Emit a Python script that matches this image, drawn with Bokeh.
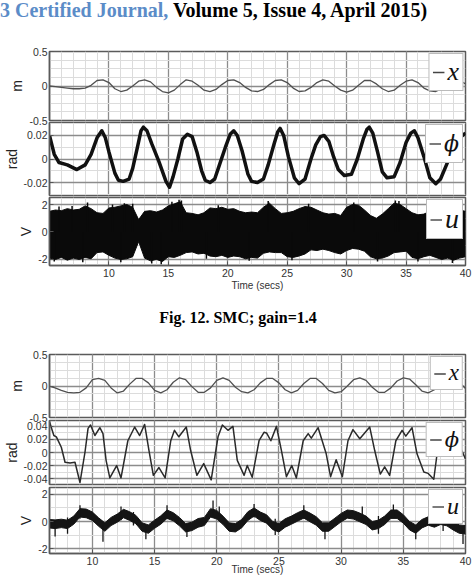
from bokeh.plotting import figure
from bokeh.layouts import column
from bokeh.models import Range1d, FixedTicker, Div, Legend, LegendItem
from bokeh.embed import file_html
from bokeh.resources import INLINE

# ---------------- DATA ----------------
# Figure 12 (upper): sample grid 5..40 s every 0.5 s
t1 = [5.0 + 0.5 * i for i in range(71)]
x1 = [0.00, -0.01, -0.02, -0.03, -0.04, -0.04, -0.03, 0.01, 0.08, 0.09,
      0.05, -0.04, -0.08, -0.06, 0.00, 0.07, 0.09, 0.06, -0.02, -0.08,
      -0.10, -0.06, 0.02, 0.09, 0.07, 0.01, -0.06, -0.08, -0.05, 0.02,
      0.08, 0.09, 0.05, -0.02, -0.07, -0.08, -0.05, 0.02, 0.08, 0.09,
      0.05, -0.03, -0.08, -0.07, -0.02, 0.05, 0.09, 0.07, 0.00, -0.06,
      -0.09, -0.06, 0.01, 0.08, 0.08, 0.03, -0.04, -0.08, -0.06, 0.01,
      0.07, 0.09, 0.05, -0.03, -0.07, -0.08, -0.04, 0.03, 0.08, 0.08, 0.03]

phi1_t = [5.0, 5.2, 5.4, 5.8, 6.5, 7.3, 8.0, 8.5, 9.0, 9.4,
          9.7, 10.0, 10.5, 10.8, 11.2, 11.7, 12.0, 12.4, 12.7, 12.9,
          13.2, 13.6, 14.2, 14.8, 15.1, 15.4, 15.8, 16.2, 16.6, 17.0,
          17.4, 17.8, 18.1, 18.5, 18.9, 19.3, 19.8, 20.2, 20.5, 20.8,
          21.2, 21.7, 22.0, 22.5, 23.0, 23.4, 23.9, 24.2, 24.4, 24.7,
          25.1, 25.6, 26.0, 26.5, 27.0, 27.4, 27.8, 28.1, 28.5, 28.9,
          29.3, 29.8, 30.4, 30.9, 31.4, 31.7, 31.9, 32.2, 32.6, 33.0,
          33.4, 34.0, 34.5, 35.0, 35.4, 35.7, 36.0, 36.5, 37.0, 37.5,
          37.9, 38.4, 39.0, 39.5, 40.0]
phi1_v = [0.020, 0.012, 0.004, -0.003, -0.005, -0.009, -0.005, 0.004, 0.018, 0.024,
          0.018, 0.006, -0.012, -0.018, -0.019, -0.017, -0.008, 0.010, 0.024, 0.027,
          0.024, 0.013, -0.002, -0.019, -0.024, -0.015, 0.000, 0.017, 0.021, 0.019,
          0.006, -0.010, -0.018, -0.020, -0.017, -0.005, 0.010, 0.021, 0.024, 0.020,
          0.007, -0.013, -0.019, -0.020, -0.017, -0.005, 0.013, 0.023, 0.026, 0.020,
          0.002, -0.016, -0.021, -0.017, 0.000, 0.012, 0.019, 0.020, 0.015, 0.002,
          -0.009, -0.014, -0.013, 0.000, 0.017, 0.025, 0.027, 0.022, 0.006, -0.011,
          -0.016, -0.015, -0.003, 0.014, 0.022, 0.024, 0.018, 0.002, -0.016, -0.021,
          -0.017, -0.005, 0.010, 0.018, 0.022]

u1_hi = [1.5, 1.6, 1.55, 1.7, 1.6, 1.65, 1.9, 1.7, 1.4, 1.35,
         1.75, 1.8, 1.9, 2.0, 1.8, 0.9, 1.5, 1.55, 1.45, 1.6,
         1.9, 2.05, 2.2, 1.4, 1.35, 1.25, 1.4, 1.75, 1.7, 1.8,
         1.65, 1.7, 1.5, 1.4, 1.45, 1.4, 1.8, 2.1, 1.7, 1.35,
         1.4, 1.5, 1.7, 1.85, 1.8, 1.6, 1.4, 1.3, 1.35, 1.2,
         1.8, 2.0, 1.95, 1.6, 1.2, 1.0, 1.3, 1.7, 2.1, 2.0,
         1.7, 1.4, 1.25, 1.3, 1.5, 1.6, 1.7, 1.65, 1.7, 1.6, 1.5]
u1_lo = [-1.9, -2.0, -1.85, -2.05, -1.9, -2.0, -1.85, -1.95, -1.5, -1.45,
         -1.7, -1.9, -2.0, -1.95, -1.8, -0.7, -1.9, -2.1, -2.0, -2.15,
         -1.8, -1.85, -1.7, -1.5, -1.45, -1.6, -1.55, -1.75, -1.8, -1.7,
         -1.85, -1.75, -1.8, -1.95, -1.85, -1.9, -1.55, -1.45, -1.5, -1.5,
         -1.8, -1.85, -1.75, -1.6, -1.3, -1.35, -1.25, -1.35, -1.5, -1.6,
         -1.35, -1.2, -1.25, -1.4, -1.8, -1.95, -1.9, -1.75, -1.5, -1.45,
         -1.4, -1.85, -1.95, -1.8, -1.7, -1.85, -2.0, -1.9, -2.05, -1.9, -1.8]
u1_spike_t = [5.8, 6.9, 8.2, 10.3, 11.3, 12.0, 15.3, 15.9, 16.1, 19.2, 23.4, 26.8, 30.6,
              34.1, 34.4, 38.1, 5.4, 7.8, 11.0, 13.6, 14.4, 18.2, 21.8, 25.4, 32.6, 36.0, 38.9]
u1_spike_v = [1.85, 1.9, 2.15, 2.0, 2.1, 2.05, 2.2, 2.35, 2.3, 1.95, 2.25, 2.05, 2.15,
              2.3, 2.25, 1.9, -2.15, -2.2, -2.2, -2.3, -2.35, -1.95, -2.1, -2.05, -2.15,
              -2.15, -2.25]

# Lower figure: sample grid 6.5..40 s every 0.5 s
t2 = [6.5 + 0.5 * i for i in range(68)]
x2 = [0.00, -0.03, -0.07, -0.10, -0.11, -0.10, -0.03, 0.10, 0.12, 0.09,
      -0.03, -0.11, -0.08, 0.03, 0.12, 0.12, 0.05, -0.07, -0.11, -0.06,
      0.06, 0.13, 0.10, -0.01, -0.10, -0.10, -0.03, 0.09, 0.13, 0.09,
      -0.02, -0.09, -0.11, -0.06, 0.05, 0.12, 0.12, 0.05, -0.06, -0.11,
      -0.07, 0.04, 0.12, 0.12, 0.04, -0.07, -0.11, -0.09, 0.00, 0.10,
      0.13, 0.09, -0.02, -0.10, -0.10, -0.03, 0.08, 0.13, 0.11, 0.02,
      -0.08, -0.11, -0.06, 0.04, 0.12, 0.12, 0.06, -0.04]

phi2_t = [6.55, 6.9, 7.1, 7.5, 7.8, 8.2, 8.6, 9.0, 9.4, 9.65, 9.85, 10.2, 10.6, 10.85,
          11.1, 11.4, 11.95, 12.3, 12.85, 13.4, 13.8, 14.2, 14.55, 14.9, 15.35, 15.85,
          16.3, 16.6, 16.95, 17.55, 17.9, 18.4, 18.95, 19.55, 20.1, 20.45, 20.9, 21.3,
          21.65, 22.2, 22.45, 22.85, 23.4, 23.8, 24.0, 24.35, 24.8, 25.2, 25.6, 26.03,
          26.4, 26.95, 27.35, 27.6, 28.15, 28.8, 29.15, 29.6, 30.1, 30.55, 30.95, 31.5,
          32.3, 32.7, 33.15, 33.5, 33.9, 34.4, 34.9, 35.2, 35.7, 36.1, 36.65, 37.0,
          37.45, 37.85, 38.3, 38.8, 39.3, 40.0]
phi2_v = [0.047, 0.026, 0.024, 0.008, -0.015, -0.016, -0.015, -0.046, 0.000, 0.037,
          0.042, 0.026, 0.038, 0.029, -0.012, -0.039, -0.020, -0.039, 0.018, 0.039,
          0.026, 0.043, 0.003, -0.035, -0.023, -0.039, 0.018, 0.034, 0.024, 0.039,
          0.003, -0.035, -0.017, -0.042, 0.024, 0.042, 0.034, 0.040, -0.012, -0.035,
          -0.020, -0.038, 0.018, 0.031, 0.030, 0.018, 0.040, 0.003, -0.037, -0.020,
          -0.039, 0.018, 0.029, 0.022, 0.038, -0.002, -0.037, -0.011, -0.037, 0.018,
          0.035, 0.021, 0.039, 0.003, -0.033, -0.022, -0.035, 0.018, 0.034, 0.025,
          0.038, -0.002, -0.030, -0.032, -0.041, 0.018, 0.035, 0.030, 0.020, -0.010]

u2_hi = [0.15, 0.12, 0.17, 0.1, 0.4, 0.95, 0.92, 0.7, 0.27, -0.1,
         0.3, 0.55, 0.9, 0.72, 0.45, -0.1, -0.25, 0.1, 0.42, 0.85,
         0.65, 0.3, -0.15, -0.05, 0.22, 0.3, 0.95, 0.82, 0.4, -0.1,
         -0.15, 0.15, 0.72, 1.0, 0.7, 0.5, 0.0, -0.15, 0.2, 0.4,
         0.65, 0.85, 0.62, 0.35, -0.1, -0.1, 0.25, 0.6, 0.85, 0.8,
         0.62, 0.4, 0.0, 0.1, 0.4, 0.85, 0.85, 0.5, 0.0, -0.25,
         0.15, 0.35, 0.2, 0.4, 0.3, 0.0, -0.25, -0.3]
u2_lo = [-0.47, -0.52, -0.45, -0.52, -0.2, 0.33, 0.28, 0.08, -0.35, -0.72,
         -0.3, -0.05, 0.28, 0.08, -0.17, -0.72, -0.87, -0.5, -0.2, 0.23,
         0.05, -0.32, -0.77, -0.67, -0.42, -0.3, 0.33, 0.18, -0.22, -0.72,
         -0.77, -0.47, 0.08, 0.4, 0.08, -0.12, -0.6, -0.77, -0.42, -0.2,
         0.03, 0.25, -0.02, -0.27, -0.72, -0.72, -0.37, -0.02, 0.25, 0.18,
         -0.02, -0.22, -0.62, -0.52, -0.22, 0.23, 0.23, -0.12, -0.62, -0.87,
         -0.47, -0.27, -0.42, -0.22, -0.32, -0.62, -0.87, -0.92]
u2_spike_t = [7.0, 8.0, 9.0, 10.85, 12.3, 13.3, 14.3, 16.0, 17.6, 19.7, 20.2, 23.0, 24.7,
              27.0, 28.7, 31.7, 33.0, 34.2, 36.0, 38.2, 39.8]
u2_spike_lo = [-1.1, -0.9, 0.2, -1.5, 0.1, -0.3, -1.3, 0.2, -1.15, 0.3, 0.2, 0.3, -1.0,
               0.2, -1.3, 0.1, -0.9, 0.3, -1.3, -0.7, -1.65]
u2_spike_hi = [0.1, 0.3, 1.2, -0.3, 1.1, 0.7, -0.3, 1.2, -0.2, 1.55, 1.1, 1.3, 0.2,
               1.2, -0.3, 1.1, 0.4, 1.25, -0.4, 0.6, -0.7]

# ticks
x_major = [10, 15, 20, 25, 30, 35, 40]
x_minor1 = list(range(5, 41))
x_minor2 = list(range(7, 41))
ya_ticks, ya_labels, ya_minor = [-0.5, 0, 0.5], ["-0.5", "0", "0.5"], [-0.375, -0.25, -0.125, 0.125, 0.25, 0.375]
yb_ticks, yb_labels, yb_minor = [-0.02, 0, 0.02], ["-0.02", "0", "0.02"], [-0.03, -0.01, 0.01, 0.03]
yc_ticks, yc_labels, yc_minor = [-2, 0, 2], ["-2", "0", "2"], [-1, 1]
yd_ticks, yd_labels, yd_minor = [-0.04, -0.02, 0, 0.02, 0.04], ["-0.04", "-0.02", "0", "0.02", "0.04"], [-0.03, -0.01, 0.01, 0.03]

SANS = "Liberation Sans"
SERIF = "Liberation Serif"
NAN = float("nan")


def panel(x_range, y_range, y_ticks, y_labels, y_minor, y_label, x_minor, frame_h,
          top, bottom, left, shift, show_x=False, xlab_standoff=0):
    p = figure(width=476, height=top + frame_h + bottom, x_range=x_range, y_range=y_range,
               output_backend="svg", toolbar_location=None,
               x_axis_location="below" if show_x else None,
               min_border_left=left, min_border_right=11, min_border_top=top,
               min_border_bottom=bottom, border_fill_color=None, background_fill_color=None,
               outline_line_color="#5a5a5a", outline_line_width=1.5, margin=(shift, 0, 0, 0))
    ya = p.yaxis[0]
    ya.ticker = FixedTicker(ticks=y_ticks, minor_ticks=y_minor)
    ya.major_label_overrides = dict(zip(y_ticks, y_labels))
    ya.axis_label = y_label
    ya.axis_label_text_font = SANS
    ya.axis_label_text_font_style = "normal"
    ya.axis_label_text_font_size = "14px"
    ya.axis_label_text_color = "#222222"
    ya.axis_label_standoff = 1
    for ax in p.axis:
        ax.major_label_text_font = SANS
        ax.major_label_text_font_size = "10.5px"
        ax.major_label_text_color = "#333333"
        ax.major_label_standoff = 2
        ax.major_tick_in = 4
        ax.major_tick_out = 0
        ax.minor_tick_in = 0
        ax.minor_tick_out = 0
        ax.major_tick_line_color = "#555555"
        ax.axis_line_color = "#5a5a5a"
        ax.axis_line_width = 1.5
    if show_x:
        xa = p.xaxis[0]
        xa.ticker = FixedTicker(ticks=x_major)
        xa.axis_label = "Time (secs)"
        xa.axis_label_text_font = SANS
        xa.axis_label_text_font_style = "normal"
        xa.axis_label_text_font_size = "10px"
        xa.axis_label_text_color = "#333333"
        xa.axis_label_standoff = xlab_standoff
        xa.major_label_standoff = 3
    p.xgrid.ticker = FixedTicker(ticks=x_major, minor_ticks=x_minor)
    p.ygrid.ticker = FixedTicker(ticks=y_ticks, minor_ticks=y_minor)
    p.grid.grid_line_color = "#8c8c8c"
    p.grid.grid_line_width = 1.3
    p.grid.minor_grid_line_color = "#dcdcdc"
    p.grid.minor_grid_line_width = 1
    p.grid.level = "underlay"
    return p


def add_legend(p, label, font_px, height_px, font=SERIF):
    proxy = p.line(x=[NAN], y=[NAN], line_color="#444444", line_width=1.4)
    lg = Legend(items=[LegendItem(label=label, renderers=[proxy])], location="top_right")
    lg.label_text_font = font
    lg.label_text_font_style = "italic"
    lg.label_text_font_size = f"{font_px}px"
    lg.label_text_color = "#111111"
    lg.glyph_width = 12
    lg.glyph_height = height_px
    lg.label_height = height_px
    lg.label_width = 8
    lg.label_standoff = 3
    lg.padding = 3
    lg.spacing = 0
    lg.margin = 2
    lg.border_line_color = "#777777"
    lg.border_line_width = 1
    lg.background_fill_color = "white"
    lg.background_fill_alpha = 1
    p.add_layout(lg)


xr1 = Range1d(5, 40)
xr2 = Range1d(6.55, 40)

# ---------- header ----------
header = Div(text=(
    "<div style=\"font-family:'Liberation Serif';font-weight:bold;font-size:20px;"
    "line-height:20px;white-space:nowrap;width:476px;color:#000\">"
    "<span style=\"color:#5b8cc8\">3 Certified Journal,</span> Volume 5, Issue 4, April 2015)</div>"),
    width=476, height=45, margin=0)

# ---------- Figure 12 ----------
a1 = panel(xr1, Range1d(-0.5, 0.5), ya_ticks, ya_labels, ya_minor, "m", x_minor1, 69, 6, 8, 42, 0)
a1.line(t1, x1, line_color="#505050", line_width=1.3)
add_legend(a1, "x", 26, 30)

b1 = panel(xr1, Range1d(-0.031, 0.031), yb_ticks, yb_labels, yb_minor, "rad", x_minor1, 73, 8, 8, 42, -14)
b1.line(phi1_t, phi1_v, line_color="#111111", line_width=3.5, line_join="round")
add_legend(b1, "ϕ", 22, 31, font="DejaVu Serif")

c1 = panel(xr1, Range1d(-2.44, 2.51), yc_ticks, yc_labels, yc_minor, "V", x_minor1, 68, 8, 30, 42, -14,
           show_x=True, xlab_standoff=0)
c1.varea(x=t1, y1=u1_lo, y2=u1_hi, fill_color="#0a0a0a")
c1.segment(x0=u1_spike_t, y0=[0] * len(u1_spike_t), x1=u1_spike_t, y1=u1_spike_v,
           line_color="#0a0a0a", line_width=1.5)
c1.line(t1, u1_hi, line_color="#0a0a0a", line_width=1)
c1.line(t1, u1_lo, line_color="#0a0a0a", line_width=1)
add_legend(c1, "u", 28, 31)

caption = Div(text=(
    "<div style=\"font-family:'Liberation Serif';font-weight:bold;font-size:16px;"
    "line-height:18px;text-align:center;padding-top:14px;width:476px;color:#000\">"
    "Fig. 12. SMC; gain=1.4</div>"),
    width=476, height=51, margin=0)

# ---------- Lower figure ----------
a2 = panel(xr2, Range1d(-0.5, 0.5), ya_ticks, ya_labels, ya_minor, "m", x_minor2, 63, 8, 8, 46, 0)
a2.line(t2, x2, line_color="#505050", line_width=1.3)
add_legend(a2, "x", 23, 23)

b2 = panel(xr2, Range1d(-0.049, 0.049), yd_ticks, yd_labels, yd_minor, "rad", x_minor2, 64, 8, 8, 46, -13)
b2.line(phi2_t, phi2_v, line_color="#2a2a2a", line_width=1.5, line_join="round")
add_legend(b2, "ϕ", 21, 27, font="DejaVu Serif")

c2 = panel(xr2, Range1d(-2.36, 2.51), yc_ticks, yc_labels, yc_minor, "V", x_minor2, 66, 8, 33, 46, -13,
           show_x=True, xlab_standoff=-4)
c2.varea(x=t2, y1=u2_lo, y2=u2_hi, fill_color="#151515")
c2.segment(x0=u2_spike_t, y0=u2_spike_lo, x1=u2_spike_t, y1=u2_spike_hi,
           line_color="#151515", line_width=1.3)
c2.line(t2, u2_hi, line_color="#151515", line_width=1)
c2.line(t2, u2_lo, line_color="#151515", line_width=1)
add_legend(c2, "u", 24, 23)

layout = column(header, a1, b1, c1, caption, a2, b2, c2, spacing=0)

open("out.html", "w").write(file_html(layout, INLINE))
